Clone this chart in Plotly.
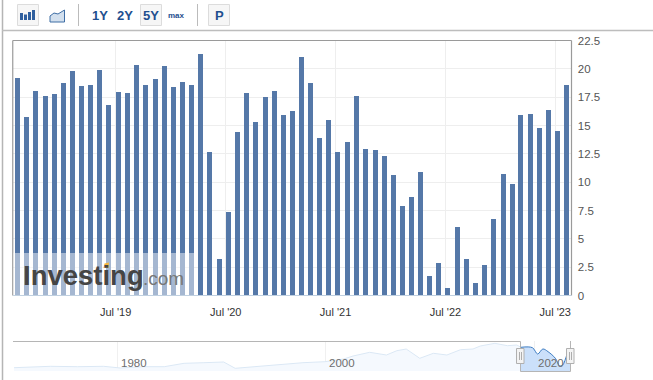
import pandas as pd
import plotly.graph_objects as go

W, H = 653, 380

bar_dates = pd.date_range("2018-08-09", periods=61, freq=pd.DateOffset(months=1)).strftime("%Y-%m-%d").tolist()
bar_values = [19.2, 15.77, 18.07, 17.63, 17.8, 18.78, 19.84, 18.5, 18.6, 19.93, 16.83, 17.98,
              17.9, 20.37, 18.6, 19.13, 20.28, 18.42, 18.87, 18.6, 21.35, 12.67, 3.28, 7.44,
              14.44, 17.9, 15.32, 17.54, 18.07, 15.94, 16.3, 21.08, 18.78, 13.9, 15.5, 12.67,
              13.55, 17.63, 12.93, 12.84, 12.31, 10.72, 7.97, 8.77, 10.98, 1.77, 2.92, 0.71,
              6.11, 3.28, 1.15, 2.75, 6.82, 10.8, 9.92, 15.94, 16.03, 14.79, 16.39, 14.53, 18.6]
y_ticks = [0, 2.5, 5, 7.5, 10, 12.5, 15, 17.5, 20, 22.5]
y_labels = ["0", "2.5", "5", "7.5", "10", "12.5", "15", "17.5", "20", "22.5"]
x_ticks = ["2019-07-01", "2020-07-01", "2021-07-01", "2022-07-01", "2023-07-01"]
x_labels = ["Jul '19", "Jul '20", "Jul '21", "Jul '22", "Jul '23"]

nav_years = [1970.1, 1973.6, 1976.2, 1978.7, 1980.3, 1982.5, 1984.5, 1986.4, 1988.3, 1990.2, 1991.3,
             1994.0, 1997.8, 1999.9, 2001.7, 2002.6, 2004.2, 2005.8, 2006.8, 2007.7, 2009.0, 2010.3,
             2011.6, 2012.9, 2014.1, 2014.8, 2016.2, 2017.4, 2018.3, 2018.7]
nav_values = [3.3, 4.7, 4.3, 4.7, 3.0, 4.3, 4.3, 7.7, 8.3, 9.0, 2.7, 5.3, 8.3, 9.3, 12.0, 15.0,
              18.7, 16.0, 20.3, 22.0, 12.7, 17.7, 16.0, 21.3, 22.0, 25.0, 27.7, 25.3, 26.0, 23.7]
sel_years = [2018.7, 2019.8, 2020.3, 2020.8, 2021.3, 2022.0, 2022.4, 2022.7, 2023.1, 2023.4]
sel_values = [23.7, 23.3, 17.0, 22.0, 19.3, 12.7, 5.3, 6.0, 16.0, 22.7]
nav_ticks = [1980, 2000, 2020]

BAR = "#5578a8"
GRID = "#eeeeee"
BLUE = "#1f4f8f"


def px(x):
    return x / W


def py(y):
    return 1 - y / H


fig = go.Figure()
fig.add_bar(x=bar_dates, y=bar_values, marker=dict(color=BAR, line_width=0),
            width=16.6 * 86400000, xaxis="x", yaxis="y", hoverinfo="skip")
fig.add_scatter(x=nav_years, y=nav_values, mode="lines", fill="tozeroy", fillcolor="#f5f9fe",
                line=dict(color="#dbe8f5", width=1), xaxis="x2", yaxis="y2", hoverinfo="skip")
fig.add_scatter(x=sel_years, y=sel_values, mode="lines", fill="tozeroy", fillcolor="#cbe0fa",
                line=dict(color="#3d7cc2", width=1, shape="spline"), xaxis="x2", yaxis="y2", hoverinfo="skip")

shapes = []


def rect(x0, y0, x1, y1, fill=None, line=None, lw=1, layer="above"):
    shapes.append(dict(type="rect", xref="paper", yref="paper", x0=px(x0), x1=px(x1), y0=py(y0), y1=py(y1),
                       fillcolor=fill or "rgba(0,0,0,0)", line=dict(color=line or "rgba(0,0,0,0)", width=lw if line else 0),
                       layer=layer))


def seg(x0, y0, x1, y1, color, lw=1, layer="above"):
    shapes.append(dict(type="line", xref="paper", yref="paper", x0=px(x0), x1=px(x1), y0=py(y0), y1=py(y1),
                       line=dict(color=color, width=lw), layer=layer))


# page frame
seg(2.5, 0, 2.5, 380, "#b5b5b5", 1.5)
seg(2, 30.5, 653, 30.5, "#bdbdbd", 1.5)
# toolbar
for x0 in (17.5, 140.5, 208.5):
    rect(x0, 4.5, x0 + 21, 25.5, "#f6f6f6", "#dcdcdc", 1)
seg(78.5, 4, 78.5, 26, "#bbbbbb", 1)
seg(197.5, 4, 197.5, 26, "#bbbbbb", 1)
for x0, top in ((20, 13), (24, 14.5), (28, 12), (32, 10)):
    rect(x0, top, x0 + 3, 20, "#2f5f9e")
shapes.append(dict(type="path", xref="paper", yref="paper", layer="above",
                   path=f"M {px(50)} {py(16)} L {px(54)} {py(13)} L {px(58)} {py(14)} L {px(64.5)} {py(10)} "
                        f"L {px(64.5)} {py(22)} L {px(50)} {py(22)} Z",
                   fillcolor="#d3e0ee", line=dict(color="#3f6ea5", width=1)))
# plot frame
seg(12.75, 40.5, 571.5, 40.5, "#9a9a9a", 1.2)
seg(12.75, 40.5, 12.75, 295.5, "#9a9a9a", 1.2)
seg(571.5, 40.5, 571.5, 295.5, "#9a9a9a", 1.2)
seg(13, 295.5, 571.5, 295.5, "#c0d0e0", 1)
# watermark band
rect(13.5, 253, 194, 295, "rgba(255,255,255,0.47)")
shapes.append(dict(type="path", xref="paper", yref="paper", layer="above",
                   path=f"M {px(103.5)} {py(268)} L {px(104.5)} {py(263.5)} L {px(109)} {py(262.5)} L {px(108.5)} {py(268)} Z",
                   fillcolor="#f6b73c", line_width=0))
# navigator frame
seg(13, 341.5, 520.5, 341.5, "#b5b5b5", 1)
seg(520.5, 341.5, 520.5, 371.5, "#b5b5b5", 1)
seg(520.5, 371.5, 570.5, 371.5, "#b5b5b5", 1)
seg(570.5, 341, 570.5, 371.5, "#b5b5b5", 1)
for x0 in (516.5, 566.5):
    rect(x0, 348.5, x0 + 7.5, 363.5, "#f3f3f3", "#b0b0b0", 1)
    seg(x0 + 3, 352, x0 + 3, 360, "#9a9a9a", 0.8)
    seg(x0 + 5, 352, x0 + 5, 360, "#9a9a9a", 0.8)

ann = []


def text(x, y, s, size, color, anchor="center", family="Liberation Sans", vanchor="middle"):
    ann.append(dict(xref="paper", yref="paper", x=px(x), y=py(y), text=s, showarrow=False, xanchor=anchor,
                    yanchor=vanchor, font=dict(size=size, color=color, family=family), borderpad=0, borderwidth=0,
                    bgcolor="rgba(0,0,0,0)"))


for label, cx in (("1Y", 100), ("2Y", 125.5), ("5Y", 151), ("P", 219)):
    text(cx, 15, f"<b>{label}</b>", 13, BLUE)
text(176, 15.5, "<b>max</b>", 8, BLUE)
text(22.5, 275.5, "<b>Investing</b>", 27.5, "#454545", "left")
text(143, 278, ".com", 19, "#777777", "left")
for yr, lx in zip(nav_ticks, (120.5, 329, 537.5)):
    text(lx, 363, str(yr), 11.5, "#6e6e6e", "left")

fig.update_layout(
    width=W, height=H, margin=dict(l=0, r=0, t=0, b=0, pad=0), showlegend=False,
    paper_bgcolor="white", plot_bgcolor="white", shapes=shapes, annotations=ann,
    xaxis=dict(domain=[px(13), px(571.5)], type="date", range=["2018-07-25", "2023-08-24"],
               tickvals=x_ticks, ticktext=x_labels, tickangle=0, showgrid=True, gridcolor=GRID, gridwidth=1,
               zeroline=False, showline=False, ticks="outside", ticklen=6, tickcolor="rgba(0,0,0,0)", automargin=False,
               tickfont=dict(size=11, color="#333333", family="Liberation Sans"), anchor="y"),
    yaxis=dict(domain=[py(295.5), py(40.5)], range=[0, 22.5], side="right", tickvals=y_ticks, ticktext=y_labels,
               showgrid=True, gridcolor=GRID, gridwidth=1, zeroline=False, showline=False, ticks="outside",
               ticklen=3, tickcolor="rgba(0,0,0,0)", automargin=False,
               tickfont=dict(size=11.5, color="#555555", family="Liberation Sans"), anchor="x"),
    xaxis2=dict(domain=[px(13), px(570.5)], range=[1970, 2023.45], tickvals=nav_ticks, showticklabels=False,
                ticks="", automargin=False,
                showgrid=True, gridcolor="#f0f0f0", zeroline=False, showline=False, anchor="y2"),
    yaxis2=dict(domain=[py(371), py(341)], range=[0, 30], showgrid=False, zeroline=False, showline=False,
                showticklabels=False, ticks="", automargin=False, anchor="x2"),
    bargap=0,
)

fig.write_html("out.html", config=dict(displayModeBar=False),
               post_script="document.body.style.margin='0';document.body.style.overflow='hidden';")
